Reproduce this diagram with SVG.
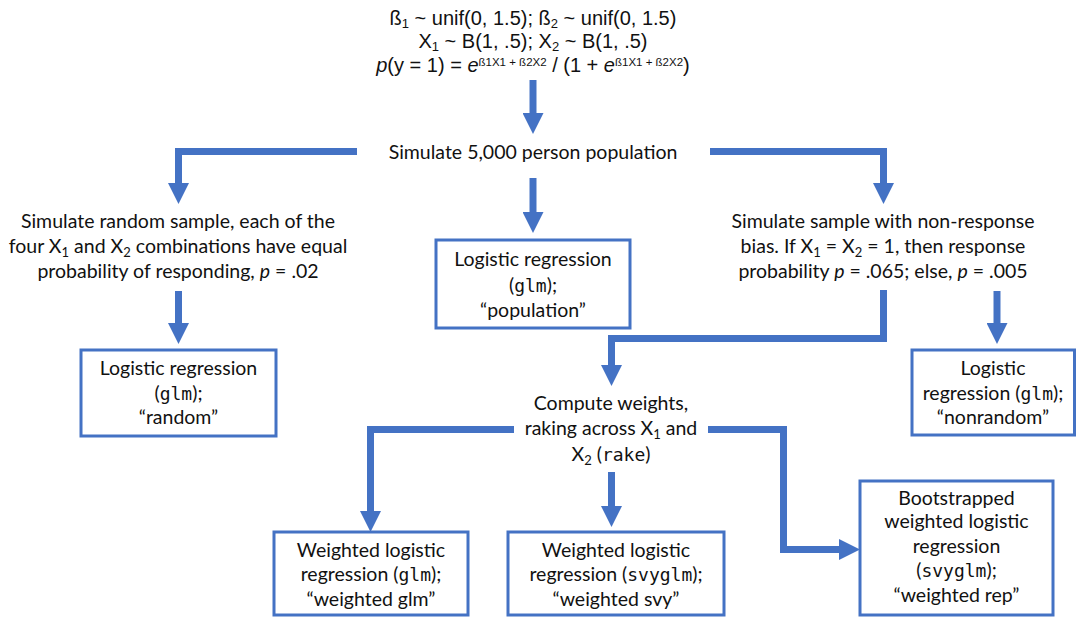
<svg xmlns="http://www.w3.org/2000/svg" width="1076" height="617" viewBox="0 0 1076 617">
<defs>
<marker id="ah" viewBox="0 0 20 20" markerWidth="3" markerHeight="3" refX="0" refY="10" orient="auto" markerUnits="strokeWidth">
<path d="M0,0 L20,10 L0,20 z" fill="#4472C4"/>
</marker>
<style>
.c{fill:none;stroke:#4472C4;stroke-width:7;stroke-linejoin:miter;marker-end:url(#ah)}
.b{fill:#fff;stroke:#4472C4;stroke-width:3}
text{font-family:Lato,"Open Sans",sans-serif;font-size:19.5px;fill:#111;text-anchor:middle}
.top{font-family:"Liberation Sans",Arial,sans-serif;font-size:20px}
.m{font-family:"DejaVu Sans Mono","Liberation Mono",monospace;font-size:18px}
.i{font-style:italic}
</style>
</defs>
<rect width="1076" height="617" fill="#fff"/>
<g id="connectors">
<path class="c" d="M533,80 V113"/>
<path class="c" d="M357,151.5 H178.5 V183"/>
<path class="c" d="M533,178 V212"/>
<path class="c" d="M710,151.5 H883.5 V183"/>
<path class="c" d="M178.5,291 V323"/>
<path class="c" d="M883.5,290 V338.5 H611.5 V365"/>
<path class="c" d="M997,291 V323"/>
<path class="c" d="M514,429.5 H370.5 V511"/>
<path class="c" d="M611.5,472 V506"/>
<path class="c" d="M708,429.5 H783.5 V549.5 H839"/>
</g>
<g id="model">
<text class="top" x="533" y="25">ß<tspan font-size="13" dy="3">1</tspan><tspan dy="-3"> ~ unif(0, 1.5); ß</tspan><tspan font-size="13" dy="3">2</tspan><tspan dy="-3"> ~ unif(0, 1.5)</tspan></text>
<text class="top" x="533" y="48">X<tspan font-size="13" dy="3">1</tspan><tspan dy="-3"> ~ B(1, .5); X</tspan><tspan font-size="13" dy="3">2</tspan><tspan dy="-3"> ~ B(1, .5)</tspan></text>
<text class="top" x="533" y="72"><tspan class="i">p</tspan>(y = 1) = <tspan class="i">e</tspan><tspan font-size="11.5" dy="-6">ß1X1 + ß2X2</tspan><tspan dy="6"> / (1 + </tspan><tspan class="i">e</tspan><tspan font-size="11.5" dy="-6">ß1X1 + ß2X2</tspan><tspan dy="6">)</tspan></text>
</g>
<g id="population">
<text x="533" y="159">Simulate 5,000 person population</text>
</g>
<g id="random-sample">
<text x="178" y="228">Simulate random sample, each of the</text>
<text x="178" y="253">four X<tspan font-size="13" dy="4">1</tspan><tspan dy="-4"> and X</tspan><tspan font-size="13" dy="4">2</tspan><tspan dy="-4"> combinations have equal</tspan></text>
<text x="178" y="278">probability of responding, <tspan class="i">p</tspan> = .02</text>
</g>
<g id="nonresponse-sample">
<text x="883" y="228">Simulate sample with non-response</text>
<text x="883" y="253">bias. If X<tspan font-size="13" dy="4">1</tspan><tspan dy="-4"> = X</tspan><tspan font-size="13" dy="4">2</tspan><tspan dy="-4"> = 1, then response</tspan></text>
<text x="883" y="278">probability <tspan class="i">p</tspan> = .065; else, <tspan class="i">p</tspan> = .005</text>
</g>
<g id="lr-population">
<rect class="b" x="436" y="240" width="194" height="88"/>
<text x="533" y="266">Logistic regression</text>
<text x="533" y="292">(<tspan class="m">glm</tspan>);</text>
<text x="533" y="317">“population”</text>
</g>
<g id="lr-random">
<rect class="b" x="81" y="350" width="195" height="86"/>
<text x="178.5" y="375">Logistic regression</text>
<text x="178.5" y="400">(<tspan class="m">glm</tspan>);</text>
<text x="178.5" y="424">“random”</text>
</g>
<g id="lr-nonrandom">
<rect class="b" x="912" y="350" width="162.5" height="85"/>
<text x="993" y="375">Logistic</text>
<text x="993" y="400">regression (<tspan class="m">glm</tspan>);</text>
<text x="993" y="424">“nonrandom”</text>
</g>
<g id="compute-weights">
<text x="611" y="410">Compute weights,</text>
<text x="611" y="435">raking across X<tspan font-size="13" dy="4">1</tspan><tspan dy="-4"> and</tspan></text>
<text x="611" y="461">X<tspan font-size="13" dy="4">2</tspan><tspan dy="-4"> (</tspan><tspan class="m">rake</tspan>)</text>
</g>
<g id="weighted-glm">
<rect class="b" x="274" y="532" width="194" height="83"/>
<text x="371" y="557">Weighted logistic</text>
<text x="371" y="581">regression (<tspan class="m">glm</tspan>);</text>
<text x="371" y="606">“weighted glm”</text>
</g>
<g id="weighted-svy">
<rect class="b" x="508" y="532" width="216" height="83"/>
<text x="616" y="557">Weighted logistic</text>
<text x="616" y="581">regression (<tspan class="m">svyglm</tspan>);</text>
<text x="616" y="606">“weighted svy”</text>
</g>
<g id="weighted-rep">
<rect class="b" x="860" y="481" width="193" height="134"/>
<text x="956.5" y="505">Bootstrapped</text>
<text x="956.5" y="528">weighted logistic</text>
<text x="956.5" y="553">regression</text>
<text x="956.5" y="577">(<tspan class="m">svyglm</tspan>);</text>
<text x="956.5" y="602">“weighted rep”</text>
</g>
</svg>
